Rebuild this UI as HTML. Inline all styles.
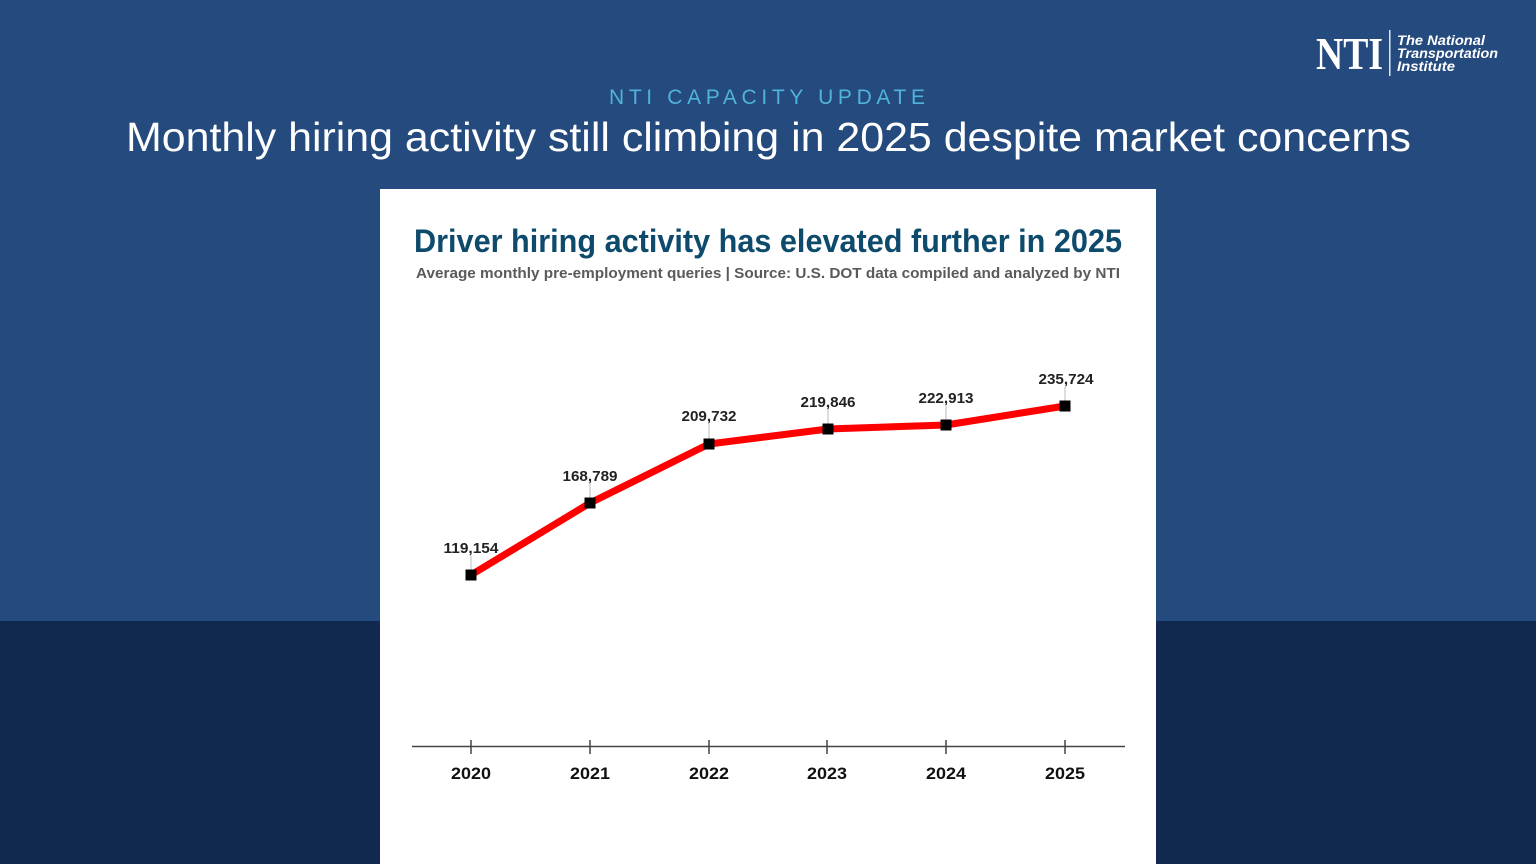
<!DOCTYPE html>
<html><head><meta charset="utf-8"><style>
html,body{margin:0;padding:0;width:1536px;height:864px;overflow:hidden;background:#244a7e}
svg{display:block}
</style></head><body>
<svg width="1536" height="864" viewBox="0 0 1536 864" xmlns="http://www.w3.org/2000/svg">
<rect x="0" y="0" width="1536" height="621" fill="#244a7e"/>
<rect x="0" y="621" width="1536" height="243" fill="#11294f"/>
<!-- logo -->
<text x="1316" y="69" font-family="Liberation Serif, serif" font-weight="bold" font-size="46" fill="#fff" textLength="67" lengthAdjust="spacingAndGlyphs">NTI</text>
<rect x="1389" y="30" width="1.5" height="46" fill="#dfe6f0"/>
<g font-family="Liberation Sans, sans-serif" font-style="italic" font-weight="bold" font-size="14" fill="#fff">
<text x="1397" y="45" textLength="88" lengthAdjust="spacingAndGlyphs">The National</text>
<text x="1397" y="58" textLength="101" lengthAdjust="spacingAndGlyphs">Transportation</text>
<text x="1397" y="71" textLength="58" lengthAdjust="spacingAndGlyphs">Institute</text>
</g>
<!-- header -->
<text x="609" y="104" font-family="Liberation Sans, sans-serif" font-size="21" fill="#4fb3dc" textLength="316" lengthAdjust="spacing">NTI CAPACITY UPDATE</text>
<text x="126" y="151" font-family="Liberation Sans, sans-serif" font-size="41" fill="#fff" textLength="1285" lengthAdjust="spacingAndGlyphs">Monthly hiring activity still climbing in 2025 despite market concerns</text>
<!-- card -->
<rect x="380" y="189" width="776" height="675" fill="#fff"/>
<text x="414" y="252" font-family="Liberation Sans, sans-serif" font-weight="bold" font-size="32" fill="#0d4a6c" textLength="708" lengthAdjust="spacingAndGlyphs">Driver hiring activity has elevated further in 2025</text>
<text x="416" y="278" font-family="Liberation Sans, sans-serif" font-weight="bold" font-size="15" fill="#5a5a5a" textLength="704" lengthAdjust="spacingAndGlyphs">Average monthly pre-employment queries | Source: U.S. DOT data compiled and analyzed by NTI</text>
<!-- leader lines -->
<g stroke="#bbb" stroke-width="1">
<line x1="471" y1="556" x2="471" y2="575"/>
<line x1="590" y1="484" x2="590" y2="503"/>
<line x1="709" y1="424" x2="709" y2="444"/>
<line x1="828" y1="410" x2="828" y2="429"/>
<line x1="946" y1="406" x2="946" y2="425"/>
<line x1="1065" y1="387" x2="1065" y2="406"/>
</g>
<!-- line -->
<polyline points="471,575 590,503 709,444 828,429 946,425 1065,406" fill="none" stroke="#ff0000" stroke-width="7" stroke-linejoin="round"/>
<g fill="#000">
<rect x="465.5" y="569.5" width="11" height="11"/>
<rect x="584.5" y="497.5" width="11" height="11"/>
<rect x="703.5" y="438.5" width="11" height="11"/>
<rect x="822.5" y="423.5" width="11" height="11"/>
<rect x="940.5" y="419.5" width="11" height="11"/>
<rect x="1059.5" y="400.5" width="11" height="11"/>
</g>
<g font-family="Liberation Sans, sans-serif" font-weight="bold" font-size="15" fill="#222" text-anchor="middle">
<text x="471" y="553" textLength="55" lengthAdjust="spacingAndGlyphs">119,154</text>
<text x="590" y="481" textLength="55" lengthAdjust="spacingAndGlyphs">168,789</text>
<text x="709" y="421" textLength="55" lengthAdjust="spacingAndGlyphs">209,732</text>
<text x="828" y="407" textLength="55" lengthAdjust="spacingAndGlyphs">219,846</text>
<text x="946" y="403" textLength="55" lengthAdjust="spacingAndGlyphs">222,913</text>
<text x="1066" y="384" textLength="55" lengthAdjust="spacingAndGlyphs">235,724</text>
</g>
<!-- axis -->
<line x1="412" y1="746.5" x2="1125" y2="746.5" stroke="#444" stroke-width="1.5"/>
<g stroke="#444" stroke-width="1.5">
<line x1="471" y1="740" x2="471" y2="754"/>
<line x1="590" y1="740" x2="590" y2="754"/>
<line x1="709" y1="740" x2="709" y2="754"/>
<line x1="827" y1="740" x2="827" y2="754"/>
<line x1="946" y1="740" x2="946" y2="754"/>
<line x1="1065" y1="740" x2="1065" y2="754"/>
</g>
<g font-family="Liberation Sans, sans-serif" font-weight="bold" font-size="17" fill="#111" text-anchor="middle">
<text x="471" y="779" textLength="40" lengthAdjust="spacingAndGlyphs">2020</text>
<text x="590" y="779" textLength="40" lengthAdjust="spacingAndGlyphs">2021</text>
<text x="709" y="779" textLength="40" lengthAdjust="spacingAndGlyphs">2022</text>
<text x="827" y="779" textLength="40" lengthAdjust="spacingAndGlyphs">2023</text>
<text x="946" y="779" textLength="40" lengthAdjust="spacingAndGlyphs">2024</text>
<text x="1065" y="779" textLength="40" lengthAdjust="spacingAndGlyphs">2025</text>
</g>
</svg>
</body></html>
